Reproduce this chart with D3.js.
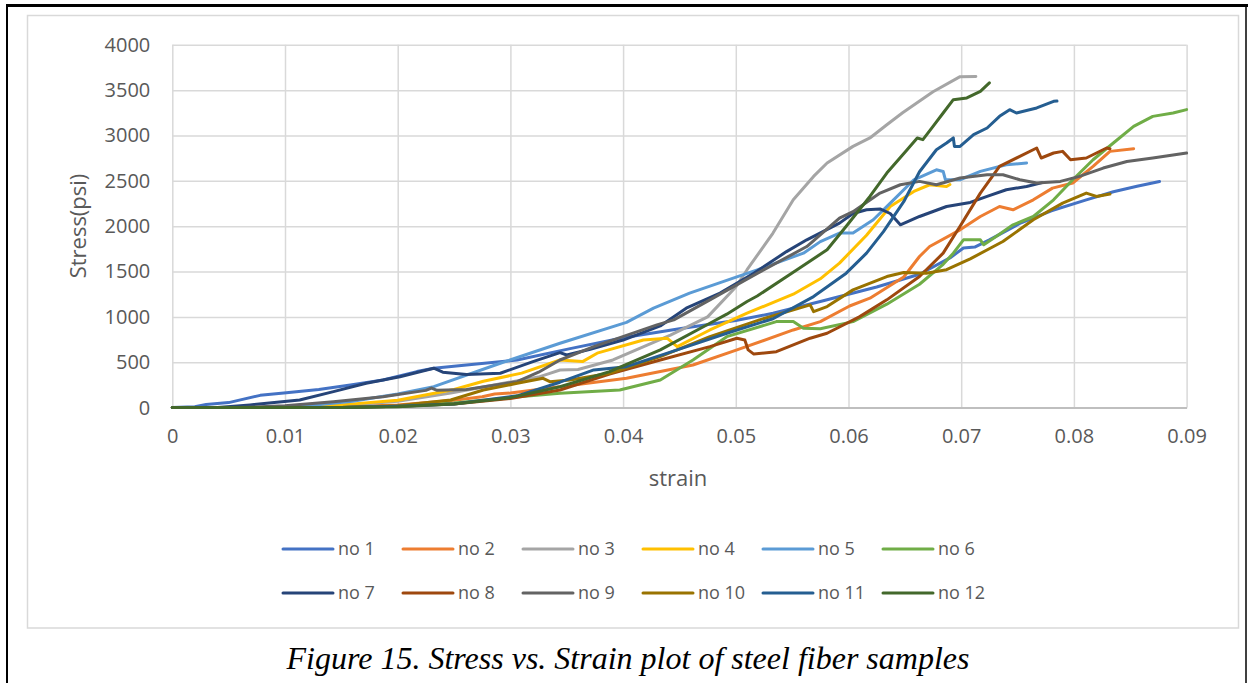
<!DOCTYPE html>
<html>
<head>
<meta charset="utf-8">
<script src="https://cdn.jsdelivr.net/npm/d3@7"></script>
<style>
  html, body { margin: 0; padding: 0; background: #ffffff; }
  svg { display: block; }
</style>
</head>
<body>
<svg id="chart" width="1248" height="683"></svg>
<script>
// ---------- data (strain, stress in psi) ----------
const seriesNames = ["no 1","no 2","no 3","no 4","no 5","no 6","no 7","no 8","no 9","no 10","no 11","no 12"];
const seriesColors = ["#4472C4","#ED7D31","#A5A5A5","#FFC000","#5B9BD5","#70AD47","#264478","#9E480E","#636363","#997300","#255E91","#43682B"];
const xTicks = [0,0.01,0.02,0.03,0.04,0.05,0.06,0.07,0.08,0.09];
const yTicks = [0,500,1000,1500,2000,2500,3000,3500,4000];

const no1 = [[0,0],[0.002,10],[0.003,35],[0.005,55],[0.0078,135],[0.0099,160],[0.013,200],[0.0158,250],[0.0187,305],[0.0217,397],[0.0232,434],[0.0261,470],[0.0306,525],[0.0353,650],[0.04,770],[0.045,870],[0.05,960],[0.0533,1040],[0.0575,1170],[0.0625,1330],[0.0663,1470],[0.069,1650],[0.0702,1760],[0.0712,1770],[0.0725,1850],[0.0752,2030],[0.078,2170],[0.0811,2290],[0.0835,2380],[0.0856,2440],[0.0876,2493]];
const no2 = [[0,0],[0.01,0],[0.015,10],[0.02,30],[0.025,80],[0.0275,120],[0.0286,150],[0.03,160],[0.0344,230],[0.0403,323],[0.0462,470],[0.0501,636],[0.0551,856],[0.0575,948],[0.0601,1120],[0.0619,1206],[0.0649,1440],[0.0663,1666],[0.0672,1776],[0.0699,1960],[0.0717,2107],[0.0734,2217],[0.0746,2181],[0.0764,2291],[0.0781,2420],[0.0799,2476],[0.0817,2659],[0.0832,2825],[0.0853,2854]];
const no3 = [[0,0],[0.01,0],[0.015,20],[0.02,70],[0.0247,161],[0.0326,341],[0.0335,378],[0.0344,415],[0.036,420],[0.0391,525],[0.0442,800],[0.0475,1000],[0.05,1330],[0.051,1520],[0.0533,1924],[0.0551,2291],[0.0569,2549],[0.0581,2697],[0.0604,2880],[0.0619,2973],[0.0634,3119],[0.0648,3251],[0.0675,3483],[0.0699,3649],[0.0713,3650]];
const no4 = [[0,0],[0.01,0],[0.015,30],[0.02,80],[0.025,200],[0.0276,290],[0.031,380],[0.0344,525],[0.0364,507],[0.0377,600],[0.0418,746],[0.0439,765],[0.0448,672],[0.0477,856],[0.051,1041],[0.0551,1250],[0.0575,1420],[0.0592,1593],[0.0616,1900],[0.0637,2217],[0.0658,2383],[0.0672,2457],[0.0687,2438],[0.069,2460]];
const no5 = [[0,0],[0.008,0],[0.012,20],[0.016,70],[0.02,150],[0.0232,231],[0.0291,489],[0.0344,710],[0.0403,940],[0.0427,1096],[0.0459,1262],[0.0519,1518],[0.056,1703],[0.0575,1830],[0.0592,1924],[0.0604,1924],[0.0622,2071],[0.064,2291],[0.0658,2512],[0.0678,2622],[0.0684,2604],[0.0686,2512],[0.0699,2512],[0.0717,2604],[0.074,2677],[0.0758,2697]];
const no6 = [[0,0],[0.015,0],[0.02,15],[0.025,50],[0.03,110],[0.0344,157],[0.0397,194],[0.0433,304],[0.0462,525],[0.0492,782],[0.0536,948],[0.0551,948],[0.056,875],[0.0575,870],[0.0604,948],[0.0634,1140],[0.0663,1360],[0.0684,1580],[0.0693,1703],[0.0702,1850],[0.0717,1850],[0.072,1795],[0.0731,1886],[0.0746,2015],[0.0764,2107],[0.0782,2291],[0.0799,2512],[0.0817,2733],[0.0835,2917],[0.0853,3100],[0.087,3211],[0.0888,3248],[0.09,3285]];
const no7 = [[0,0],[0.004,0],[0.0069,29],[0.0113,84],[0.0143,176],[0.0172,268],[0.0202,341],[0.0232,434],[0.024,390],[0.0261,365],[0.0291,379],[0.032,507],[0.0344,606],[0.035,580],[0.037,640],[0.04,745],[0.0433,900],[0.0456,1096],[0.0486,1262],[0.0516,1482],[0.0545,1720],[0.0563,1850],[0.0592,2034],[0.0604,2140],[0.0616,2181],[0.0628,2190],[0.0637,2140],[0.0646,2015],[0.0663,2107],[0.0687,2217],[0.0708,2262],[0.0723,2328],[0.074,2402],[0.0758,2438],[0.0772,2480]];
const no8 = [[0,0],[0.015,0],[0.02,15],[0.025,40],[0.03,100],[0.0344,194],[0.0388,370],[0.0433,525],[0.0477,672],[0.0501,765],[0.0508,746],[0.0511,636],[0.0516,590],[0.0536,617],[0.0566,765],[0.0581,820],[0.061,1003],[0.0634,1188],[0.0663,1445],[0.0684,1703],[0.0699,2000],[0.0717,2365],[0.0734,2659],[0.0752,2770],[0.0767,2862],[0.0771,2752],[0.0782,2807],[0.079,2825],[0.0797,2733],[0.0811,2752],[0.0829,2862],[0.0832,2854]];
const no9 = [[0,0],[0.006,0],[0.01,20],[0.0143,65],[0.0187,120],[0.0225,190],[0.023,215],[0.0235,190],[0.0261,200],[0.0306,286],[0.0325,390],[0.0344,525],[0.0374,672],[0.043,912],[0.0445,967],[0.0477,1188],[0.0519,1480],[0.0563,1776],[0.0592,2090],[0.0604,2160],[0.0628,2365],[0.0646,2457],[0.0663,2494],[0.0678,2457],[0.0699,2531],[0.0723,2567],[0.0737,2567],[0.0752,2512],[0.0767,2476],[0.0788,2494],[0.0805,2549],[0.0826,2641],[0.0847,2714],[0.087,2751],[0.09,2807]];
const no10 = [[0,0],[0.015,0],[0.02,20],[0.0247,84],[0.0276,194],[0.0306,268],[0.0329,323],[0.0335,286],[0.0353,305],[0.0388,378],[0.0433,562],[0.0477,782],[0.0521,967],[0.0566,1132],[0.0569,1058],[0.0581,1114],[0.0604,1298],[0.0634,1445],[0.0649,1489],[0.0669,1482],[0.0687,1520],[0.0708,1640],[0.0737,1831],[0.0764,2071],[0.079,2255],[0.0811,2365],[0.082,2328],[0.0832,2354]];
const no11 = [[0,0],[0.015,0],[0.02,15],[0.025,40],[0.0306,130],[0.0344,280],[0.0374,415],[0.0403,451],[0.0448,636],[0.0492,820],[0.0533,980],[0.0569,1224],[0.0598,1482],[0.0616,1703],[0.0631,1940],[0.0649,2270],[0.0663,2600],[0.0678,2843],[0.0687,2917],[0.0693,2973],[0.0694,2880],[0.0699,2880],[0.0711,3009],[0.0723,3083],[0.0734,3211],[0.0743,3285],[0.0749,3248],[0.0767,3304],[0.0782,3377],[0.0785,3380]];
const no12 = [[0,0],[0.015,0],[0.02,10],[0.025,40],[0.03,110],[0.0344,230],[0.0388,396],[0.0433,636],[0.0477,930],[0.0492,1030],[0.051,1170],[0.0519,1230],[0.0554,1518],[0.0581,1740],[0.0598,2000],[0.0619,2328],[0.0634,2586],[0.0652,2843],[0.0661,2973],[0.0666,2954],[0.0675,3100],[0.0684,3248],[0.0693,3395],[0.0705,3414],[0.0717,3487],[0.0725,3580]];

const seriesData = [no1,no2,no3,no4,no5,no6,no7,no8,no9,no10,no11,no12];
const series = seriesNames.map((name,i)=>({name, color: seriesColors[i], values: seriesData[i]}));

// ---------- layout ----------
const svg = d3.select("#chart");
const W = 1248, H = 683;
const plot = {left: 172.3, right: 1186.6, top: 44.8, bottom: 407.6};
const tickFont = "'Open Sans', 'Noto Sans', sans-serif";
const textGray = "#595959";

// outer page border (black)
svg.append("line").attr("x1",7).attr("x2",7).attr("y1",4).attr("y2",H).attr("stroke","#000").attr("stroke-width",2);
svg.append("line").attr("x1",6).attr("x2",W).attr("y1",5.5).attr("y2",5.5).attr("stroke","#000").attr("stroke-width",3);
svg.append("line").attr("x1",1246).attr("x2",1246).attr("y1",4).attr("y2",H).attr("stroke","#000").attr("stroke-width",1.5);

// chart area frame (light gray)
svg.append("rect").attr("x",27.5).attr("y",15.5).attr("width",1211).attr("height",612.5)
  .attr("fill","#fff").attr("stroke","#D9D9D9").attr("stroke-width",1.5);

const x = d3.scaleLinear().domain([0,0.09]).range([plot.left, plot.right]);
const y = d3.scaleLinear().domain([0,4000]).range([plot.bottom, plot.top]);

// gridlines
const gridY = svg.append("g").attr("transform",`translate(${plot.left},0)`)
  .call(d3.axisLeft(y).tickValues(yTicks).tickSize(-(plot.right-plot.left)).tickFormat(""));
gridY.select(".domain").remove();
gridY.selectAll("line").attr("stroke","#D9D9D9").attr("stroke-width",1.5);

const gridX = svg.append("g").attr("transform",`translate(0,${plot.bottom})`)
  .call(d3.axisBottom(x).tickValues(xTicks).tickSize(-(plot.bottom-plot.top)).tickFormat(""));
gridX.select(".domain").remove();
gridX.selectAll("line").attr("stroke","#D9D9D9").attr("stroke-width",1.5);

// y tick labels
const yAxis = svg.append("g").attr("transform",`translate(${plot.left},0)`)
  .call(d3.axisLeft(y).tickValues(yTicks).tickSize(0).tickPadding(22).tickFormat(d3.format("d")));
yAxis.select(".domain").remove();
yAxis.selectAll("text").attr("fill",textGray).style("font-family",tickFont).style("font-size","20px");

// x axis
const xAxis = svg.append("g").attr("transform",`translate(0,${plot.bottom})`)
  .call(d3.axisBottom(x).tickValues(xTicks).tickSize(0).tickPadding(21).tickFormat(d => d===0 ? "0" : d3.format(".2f")(d)));
xAxis.select(".domain").attr("stroke","#BFBFBF").attr("stroke-width",2);
xAxis.selectAll("text").attr("fill",textGray).style("font-family",tickFont).style("font-size","20px");

// axis titles
svg.append("text").attr("x",678).attr("y",486).attr("text-anchor","middle")
  .attr("fill",textGray).style("font-family",tickFont).style("font-size","22px").text("strain");
svg.append("text").attr("transform","translate(86,226) rotate(-90)").attr("text-anchor","middle")
  .attr("fill",textGray).style("font-family",tickFont).style("font-size","22px").text("Stress(psi)");

// lines
const line = d3.line().x(d=>x(d[0])).y(d=>y(d[1]));
svg.append("clipPath").attr("id","plotclip").append("rect")
  .attr("x",plot.left-2).attr("y",plot.top-10).attr("width",plot.right-plot.left+4).attr("height",plot.bottom-plot.top+12);
svg.append("g").attr("clip-path","url(#plotclip)")
  .selectAll("path").data(series).join("path")
  .attr("d",d=>line(d.values)).attr("fill","none").attr("stroke",d=>d.color)
  .attr("stroke-width",3).attr("stroke-linejoin","round").attr("stroke-linecap","round");

// legend
const legend = svg.append("g");
const legX0 = 283, legDX = 120, legRows = [549, 593];
series.forEach((s,i)=>{
  const r = Math.floor(i/6), c = i%6;
  const gx = legX0 + c*legDX, gy = legRows[r];
  const g = legend.append("g").attr("transform",`translate(${gx},${gy})`);
  g.append("line").attr("x1",0).attr("x2",50).attr("y1",0).attr("y2",0)
    .attr("stroke",s.color).attr("stroke-width",3).attr("stroke-linecap","round");
  g.append("text").attr("x",55).attr("y",0).attr("dy","0.35em").attr("fill",textGray)
    .style("font-family",tickFont).style("font-size","18px").text(s.name);
});

// caption
svg.append("text").attr("x",628).attr("y",669).attr("text-anchor","middle")
  .attr("fill","#000").style("font-family","'Liberation Serif','Times New Roman',serif")
  .style("font-style","italic").style("font-size","32px")
  .text("Figure 15. Stress vs. Strain plot of steel fiber samples");
</script>
</body>
</html>
